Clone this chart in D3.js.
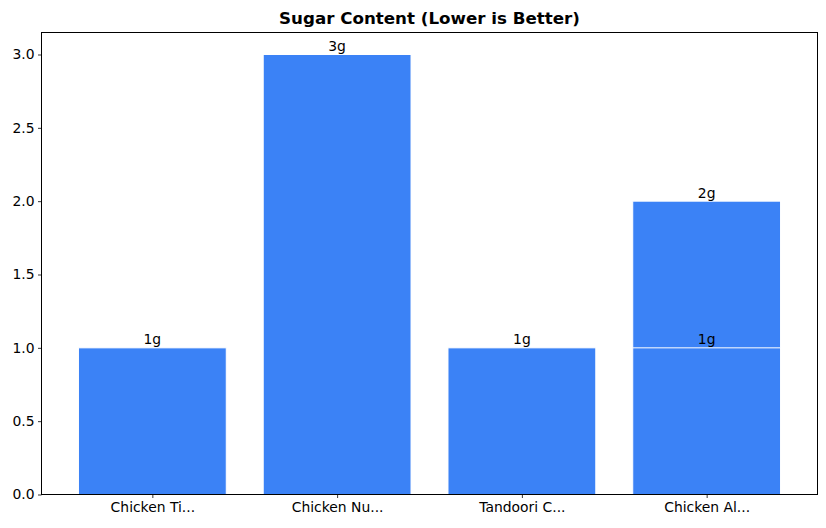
<!DOCTYPE html>
<html><head><meta charset="utf-8">
<script src="https://cdn.jsdelivr.net/npm/d3@7"></script>
<style>body{margin:0;background:#fff}svg{display:block}text{font-family:"DejaVu Sans",sans-serif}</style>
</head><body>
<script>
const labels = ["Chicken Ti...", "Chicken Nu...", "Tandoori C...", "Chicken Al...", "Chicken Al..."];
const values = [1, 3, 1, 2, 1];
const valueText = ["1g", "3g", "1g", "2g", "1g"];
const yTicks = [0, 0.5, 1.0, 1.5, 2.0, 2.5, 3.0];
const title = "Sugar Content (Lower is Better)";

const W = 826, H = 528;
const m = {left: 41.5, right: 817.5, top: 32.5, bottom: 494.5};
const svg = d3.select("body").append("svg").attr("width", W).attr("height", H);

const cats = Array.from(new Set(labels));
const x = d3.scaleLinear().domain([-0.6, cats.length - 0.4]).range([m.left, m.right]);
const y = d3.scaleLinear().domain([0, 3.15]).range([m.bottom, m.top]);
const bw = 0.8;

const data = labels.map((l, i) => ({l, v: values[i], t: valueText[i], c: cats.indexOf(l)}));

svg.append("g").selectAll("rect").data(data).join("rect")
  .attr("x", d => x(d.c - bw / 2))
  .attr("width", d => x(d.c + bw / 2) - x(d.c - bw / 2))
  .attr("y", d => y(d.v))
  .attr("height", d => y(0) - y(d.v))
  .attr("fill", "#3b82f6")
  .attr("stroke", "#ffffff")
  .attr("stroke-width", 1);

svg.append("g").selectAll("text").data(data).join("text")
  .attr("x", d => x(d.c))
  .attr("y", d => y(d.v) - 3.5)
  .attr("text-anchor", "middle")
  .attr("font-size", "13.9px")
  .attr("fill", "#000")
  .text(d => d.t);

// axes
const yAxis = d3.axisLeft(y).tickValues(yTicks).tickFormat(d3.format(".1f")).tickSize(3.5).tickPadding(3.5);
const gy = svg.append("g").attr("transform", `translate(${m.left},0)`).call(yAxis);
const xAxis = d3.axisBottom(x).tickValues(cats.map((c, i) => i)).tickFormat(i => cats[i]).tickSize(3.5).tickPadding(3.5);
const gx = svg.append("g").attr("transform", `translate(0,${m.bottom})`).call(xAxis);
[gx, gy].forEach(g => {
  g.select(".domain").remove();
  g.selectAll("text").attr("font-size", "13.9px").attr("fill", "#000").attr("font-family", '"DejaVu Sans",sans-serif');
  g.selectAll("line").attr("stroke", "#000").attr("stroke-width", 0.8);
});
gx.selectAll("text").attr("dy", "0.75em");

svg.append("rect").attr("x", m.left).attr("y", m.top)
  .attr("width", m.right - m.left).attr("height", m.bottom - m.top)
  .attr("fill", "none").attr("stroke", "#000").attr("stroke-width", 1);

svg.append("text").attr("x", (m.left + m.right) / 2).attr("y", 24)
  .attr("text-anchor", "middle").attr("font-size", "16.7px").attr("font-weight", "bold")
  .text(title);
</script>
</body></html>
